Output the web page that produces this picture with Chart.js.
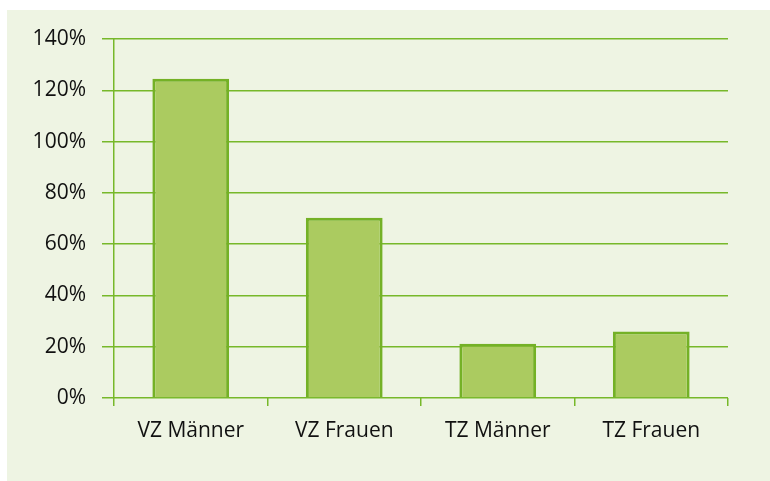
<!DOCTYPE html>
<html>
<head>
<meta charset="utf-8">
<script src="https://cdn.jsdelivr.net/npm/chart.js@4/dist/chart.umd.min.js"></script>
<style>
    body { margin: 0; background: #ffffff; }
    #panel { position: absolute; left: 7px; top: 10px; width: 763px; height: 471px; background: #eef4e3; }
</style>
</head>
<body>
<div id="panel"><canvas id="barChart" width="763" height="471"></canvas></div>
<script>
const categories = ['VZ Männer', 'VZ Frauen', 'TZ Männer', 'TZ Frauen'];
const shares = [124.5, 70.3, 21.2, 25.9]; // percent
const yTicks = [0, 20, 40, 60, 80, 100, 120, 140];

const green = '#77b82a';

document.addEventListener("DOMContentLoaded", function() {
    const ctx = document.getElementById('barChart').getContext('2d');
    new Chart(ctx, {
        type: 'bar',
        data: {
            labels: categories,
            datasets: [{
                data: shares,
                backgroundColor: '#abcb60',
                borderColor: '#74b126',
                borderWidth: 3,
                barPercentage: 0.5,
                categoryPercentage: 1
            }]
        },
        options: {
            responsive: false,
            animation: false,
            layout: { padding: { top: 29, right: 42, left: 0, bottom: 0 } },
            plugins: { legend: { display: false }, tooltip: { enabled: false } },
            scales: {
                x: {
                    grid: {
                        offset: true,
                        // only outer frame lines run through the plot
                        color: c => (c.index === 0 || c.index === categories.length) ? green : 'rgba(0,0,0,0)',
                        tickColor: green,
                        lineWidth: 1.5,
                        tickLength: 8
                    },
                    border: { display: false },
                    ticks: {
                        color: '#111111',
                        font: { family: 'Open Sans', size: 21 },
                        padding: 12
                    },
                    afterFit: a => { a.height = 83; }
                },
                y: {
                    min: 0,
                    max: 140,
                    afterBuildTicks: a => { a.ticks = yTicks.map(v => ({ value: v })); },
                    grid: { color: green, lineWidth: 1.5, tickLength: 12 },
                    border: { display: false },
                    ticks: {
                        color: '#111111',
                        font: { family: 'Open Sans', size: 21 },
                        padding: 16,
                        callback: v => v + '%'
                    },
                    afterFit: a => { a.width = 107; }
                }
            }
        }
    });
});
</script>
</body>
</html>
